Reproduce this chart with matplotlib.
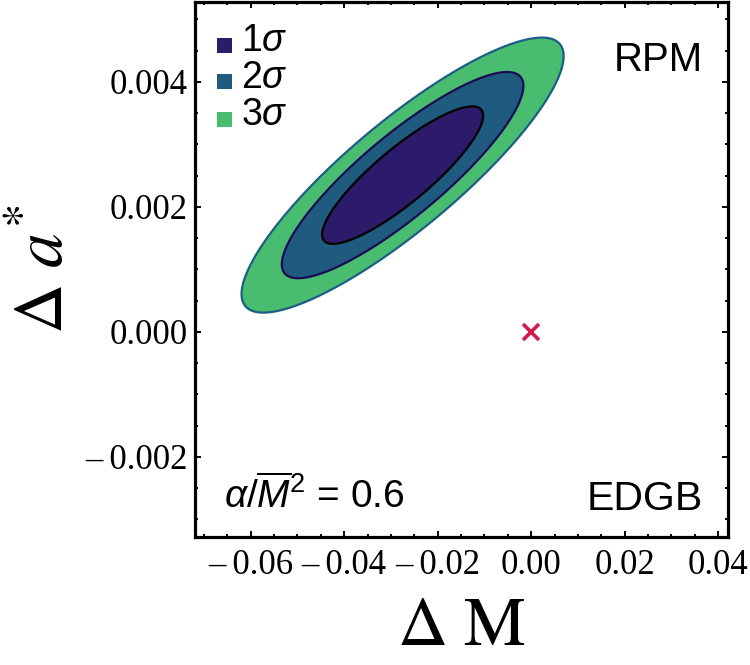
import numpy as np
import matplotlib
matplotlib.use("Agg")
import matplotlib.pyplot as plt
from matplotlib.ticker import MultipleLocator, FuncFormatter
from matplotlib.patches import Rectangle

# ---- data ----
center_dM = -0.0275
center_da = 0.00251
sigma_dM = 0.01722
sigma_da = 0.00110
rho = 0.865
sigma_labels = ["1", "2", "3"]
contour_radii = [1.0, 1.5, 2.0]
fill_colors = ["#2c1a6b", "#1f5b7e", "#48bc6f"]
edge_colors = ["#000000", "#1b0c55", "#1b5f86"]
truth_dM = [0.0]
truth_da = [0.0]
xlim = (-0.0719, 0.0421)
ylim = (-0.00328, 0.00528)
label_model = "RPM"
label_theory = "EDGB"

plt.rcParams["mathtext.fontset"] = "custom"
plt.rcParams["mathtext.rm"] = "Liberation Sans"
plt.rcParams["mathtext.it"] = "Liberation Sans:italic"

fig = plt.figure(figsize=(7.5, 6.65), dpi=100)
ax = fig.add_axes([0.26, 0.1925, 0.7107, 0.8045])

# quadratic form of a correlated Gaussian
gx = np.linspace(xlim[0], xlim[1], 700)
gy = np.linspace(ylim[0], ylim[1], 700)
X, Y = np.meshgrid(gx, gy)
u = (X - center_dM) / sigma_dM
v = (Y - center_da) / sigma_da
Q = (u**2 - 2 * rho * u * v + v**2) / (1 - rho**2)
R = np.sqrt(Q)

levels = [0.0] + contour_radii
ax.contourf(X, Y, R, levels=levels, colors=fill_colors)
for r, c in zip(contour_radii, edge_colors):
    ax.contour(X, Y, R, levels=[r], colors=[c], linewidths=1.6)

ax.plot(truth_dM, truth_da, linestyle="none", marker="x", markersize=11,
        markeredgewidth=2.6, color="#d41a4c")

ax.set_xlim(*xlim)
ax.set_ylim(*ylim)
ax.xaxis.set_major_locator(MultipleLocator(0.02))
ax.xaxis.set_minor_locator(MultipleLocator(0.005))
ax.yaxis.set_major_locator(MultipleLocator(0.002))
ax.yaxis.set_minor_locator(MultipleLocator(0.0005))


def make_fmt(nd):
    def f(val, pos):
        s = f"{abs(val):.{nd}f}"
        if val < -1e-12:
            return "\u2013\u2009" + s
        return s
    return FuncFormatter(f)


ax.xaxis.set_major_formatter(make_fmt(2))
ax.yaxis.set_major_formatter(make_fmt(3))

ax.tick_params(which="both", direction="in", top=True, right=True, width=1.4)
ax.tick_params(which="major", length=4.5)
ax.tick_params(which="minor", length=2.5)
ax.tick_params(axis="x", which="major", pad=9)
ax.tick_params(axis="y", which="major", pad=5)
for lab in ax.get_xticklabels() + ax.get_yticklabels():
    lab.set_fontfamily("Liberation Serif")
    lab.set_fontsize(25)
for sp in ax.spines.values():
    sp.set_linewidth(2.3)

ax.set_xlabel(r"$\Delta\ \mathrm{M}$", fontsize=50, math_fontfamily="stix", labelpad=7)
ax.set_ylabel(r"$\Delta\ a^{*}$", fontsize=50, math_fontfamily="stix", labelpad=6)

# legend
sw_y = [0.9187, 0.8505, 0.7804]
tx_y = [0.908, 0.839, 0.770]
for lab, c, sy, ty in zip(sigma_labels, fill_colors, sw_y, tx_y):
    ax.add_patch(Rectangle((0.0413, sy - 0.014), 0.028, 0.028, transform=ax.transAxes,
                           facecolor=c, edgecolor="none", zorder=5))
    ax.text(0.086, ty, lab + r"$\sigma$", transform=ax.transAxes, fontsize=27,
            family="Liberation Sans", va="baseline", ha="left", zorder=5)

ax.text(0.953, 0.871, label_model, transform=ax.transAxes, fontsize=29,
        family="Liberation Sans", va="baseline", ha="right")
ax.text(0.953, 0.0505, label_theory, transform=ax.transAxes, fontsize=29.5,
        family="Liberation Sans", va="baseline", ha="right")
ax.text(0.054, 0.0545, r"$\alpha/\overline{M}^2$ = 0.6", transform=ax.transAxes,
        fontsize=28, family="Liberation Sans", va="baseline", ha="left")

fig.savefig("out.png", dpi=100)
